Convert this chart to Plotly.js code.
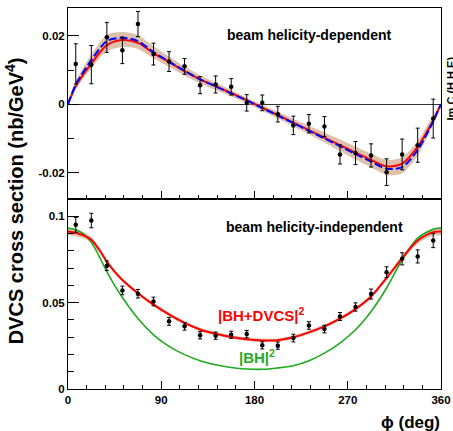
<!DOCTYPE html>
<html>
<head>
<meta charset="utf-8">
<script src="https://cdn.plot.ly/plotly-3.0.1.min.js"></script>
<style>html,body{margin:0;padding:0;background:#fff;}#chart{width:453px;height:431px;}</style>
</head>
<body>
<div id="chart"></div>
<script>
// ---- data ----
var phiData = [7.5,22.5,37.5,52.5,67.5,82.5,97.5,112.5,127.5,142.5,157.5,172.5,187.5,202.5,217.5,232.5,247.5,262.5,277.5,292.5,307.5,322.5,337.5,352.5];
var topVal = [0.0118,0.0116,0.0196,0.0158,0.0235,0.0147,0.0125,0.0111,0.0056,0.0058,0.0051,0.0004,0.0004,-0.0029,-0.0062,-0.0057,-0.0065,-0.0147,-0.0143,-0.0150,-0.0199,-0.0147,-0.0120,-0.0042];
var topErr = [0.0059,0.0056,0.0044,0.0039,0.0037,0.0032,0.0029,0.0023,0.0025,0.0025,0.0024,0.0024,0.0023,0.0023,0.0027,0.0027,0.0029,0.0028,0.0034,0.0034,0.0039,0.0045,0.0050,0.0057];
var botVal = [0.0951,0.0976,0.0714,0.0571,0.0552,0.0507,0.0392,0.0363,0.0311,0.0309,0.0314,0.0318,0.0253,0.0251,0.0295,0.0368,0.0347,0.0420,0.0475,0.0550,0.0677,0.0754,0.0768,0.0860];
var botErr = [0.0043,0.0042,0.0028,0.0025,0.0025,0.0025,0.0023,0.0022,0.0021,0.0021,0.0021,0.0021,0.0021,0.0021,0.0022,0.0022,0.0022,0.0023,0.0024,0.0029,0.0031,0.0035,0.0038,0.0041];

var phiCurveTop = [0,7.5,22.5,37.5,52.5,67.5,82.5,97.5,112.5,127.5,142.5,157.5,172.5,187.5,202.5,217.5,232.5,247.5,262.5,277.5,292.5,307.5,322.5,337.5,352.5,360];
var topRed  = [0,0.0053,0.0119,0.0173,0.0188,0.0180,0.0150,0.0124,0.0097,0.0073,0.0053,0.0033,0.0012,-0.0010,-0.0032,-0.0054,-0.0076,-0.0098,-0.0120,-0.0142,-0.0163,-0.0182,-0.0174,-0.0125,-0.0047,0];
var topBlue = [0,0.0058,0.0129,0.0185,0.0195,0.0185,0.0153,0.0125,0.0098,0.0073,0.0052,0.0032,0.0011,-0.0011,-0.0033,-0.0055,-0.0078,-0.0100,-0.0123,-0.0146,-0.0168,-0.0189,-0.0184,-0.0134,-0.0050,0];
var topBandHi = [0.0002,0.0068,0.0145,0.0203,0.0212,0.0203,0.0170,0.0140,0.0111,0.0085,0.0063,0.0042,0.0020,-0.0002,-0.0022,-0.0043,-0.0063,-0.0083,-0.0103,-0.0124,-0.0145,-0.0163,-0.0155,-0.0108,-0.0032,0.0002];
var topBandLo = [-0.0002,0.0045,0.0105,0.0155,0.0168,0.0162,0.0135,0.0110,0.0084,0.0061,0.0042,0.0023,0.0003,-0.0019,-0.0042,-0.0065,-0.0088,-0.0112,-0.0137,-0.0162,-0.0185,-0.0207,-0.0202,-0.0150,-0.0058,-0.0002];

var phiCurveBot = [0,7.5,15,22.5,30,37.5,45,52.5,67.5,82.5,97.5,112.5,127.5,142.5,157.5,172.5,187.5,202.5,217.5,232.5,247.5,262.5,277.5,292.5,307.5,322.5,337.5,352.5,360];
var botRed   = [0.0912,0.0905,0.0890,0.0865,0.0808,0.0738,0.0680,0.0632,0.0555,0.0489,0.0432,0.0383,0.0345,0.0320,0.0301,0.0288,0.0281,0.0283,0.0300,0.0328,0.0363,0.0407,0.0463,0.0536,0.0643,0.0758,0.0860,0.0909,0.0913];
var botGreen = [0.0933,0.0922,0.0898,0.0850,0.0770,0.0680,0.0600,0.0530,0.0408,0.0314,0.0247,0.0199,0.0164,0.0141,0.0125,0.0116,0.0114,0.0122,0.0135,0.0164,0.0208,0.0266,0.0343,0.0449,0.0585,0.0749,0.0874,0.0926,0.0932];
var botBandHi = [0.0934,0.0925,0.0908,0.0881,0.0822,0.0750,0.0691,0.0642,0.0565,0.0499,0.0442,0.0393,0.0355,0.0330,0.0311,0.0298,0.0291,0.0293,0.0310,0.0338,0.0373,0.0417,0.0473,0.0547,0.0655,0.0773,0.0878,0.0931,0.0935];
var botBandLo = [0.0890,0.0885,0.0872,0.0849,0.0794,0.0726,0.0669,0.0622,0.0545,0.0479,0.0422,0.0373,0.0335,0.0310,0.0291,0.0278,0.0271,0.0273,0.0290,0.0318,0.0353,0.0397,0.0453,0.0525,0.0631,0.0743,0.0842,0.0887,0.0891];

var xTicks = [0,90,180,270,360];
var xText = ['0','90','180','270','360'];
var topYTicks = [-0.02,0,0.02];
var topYText = ['-0.02','0','0.02'];
var botYTicks = [0,0.05,0.1];
var botYText = ['0','0.05','0.1'];

// ---- styling ----
var FONT = 'Liberation Sans, Arial, Helvetica, sans-serif';
var bandColor = 'rgba(200,150,115,0.6)';
var SM = 0.8;
var traces = [
  {x: phiCurveTop, y: topBandLo, xaxis:'x2', yaxis:'y2', mode:'lines', line:{width:0, shape:'spline', smoothing:SM}, hoverinfo:'skip', showlegend:false},
  {x: phiCurveTop, y: topBandHi, xaxis:'x2', yaxis:'y2', mode:'lines', line:{width:0, shape:'spline', smoothing:SM}, fill:'tonexty', fillcolor:bandColor, hoverinfo:'skip', showlegend:false},
  {x: phiCurveTop, y: topRed, xaxis:'x2', yaxis:'y2', mode:'lines', line:{color:'#ff0000', width:2, shape:'spline', smoothing:SM}, showlegend:false},
  {x: phiCurveTop, y: topBlue, xaxis:'x2', yaxis:'y2', mode:'lines', line:{color:'#0000ff', width:2, shape:'spline', smoothing:SM, dash:'8px,3px'}, showlegend:false},
  {x: phiData, y: topVal, xaxis:'x2', yaxis:'y2', mode:'markers', marker:{color:'#000', size:4.5},
   error_y:{type:'data', array: topErr, visible:true, color:'#000', thickness:1, width:2}, showlegend:false},

  {x: phiCurveBot, y: botBandLo, xaxis:'x', yaxis:'y', mode:'lines', line:{width:0, shape:'spline', smoothing:SM}, hoverinfo:'skip', showlegend:false},
  {x: phiCurveBot, y: botBandHi, xaxis:'x', yaxis:'y', mode:'lines', line:{width:0, shape:'spline', smoothing:SM}, fill:'tonexty', fillcolor:bandColor, hoverinfo:'skip', showlegend:false},
  {x: phiCurveBot, y: botGreen, xaxis:'x', yaxis:'y', mode:'lines', line:{color:'#1faa1f', width:1.6, shape:'spline', smoothing:SM}, showlegend:false},
  {x: phiCurveBot, y: botRed, xaxis:'x', yaxis:'y', mode:'lines', line:{color:'#ff0000', width:2, shape:'spline', smoothing:SM}, showlegend:false},
  {x: phiData, y: botVal, xaxis:'x', yaxis:'y', mode:'markers', marker:{color:'#000', size:4.5},
   error_y:{type:'data', array: botErr, visible:true, color:'#000', thickness:1, width:2}, showlegend:false}
];

var tickFont = {family: FONT, size: 11.5, color:'#000', weight: 700};
var xBase = {range:[0,360], tickmode:'array', tickvals:xTicks, ticktext:xText, ticks:'inside', ticklen:8, tickcolor:'#000',
  showline:true, mirror:true, linecolor:'#000', linewidth:1, showgrid:false, zeroline:false,
  minor:{ticks:'inside', ticklen:4, dtick:18, tick0:0, tickcolor:'#000', showgrid:false}};

var layout = {
  width:453, height:431,
  margin:{l:68, r:12, t:8, b:42},
  paper_bgcolor:'#fff', plot_bgcolor:'#fff',
  showlegend:false,
  font:{family:FONT, color:'#000'},
  xaxis: Object.assign({}, xBase, {anchor:'y', domain:[0,1], tickfont:tickFont}),
  xaxis2: Object.assign({}, xBase, {anchor:'y2', domain:[0,1], matches:'x', showticklabels:false}),
  yaxis: {domain:[0,0.4975], anchor:'x', range:[0,0.1098], tickmode:'array', tickvals:botYTicks, ticktext:botYText,
    ticks:'inside', ticklen:11, tickcolor:'#000', tickfont:tickFont, showline:true, mirror:true, linecolor:'#000', linewidth:1,
    showgrid:false, zeroline:false,
    minor:{ticks:'inside', ticklen:5.5, dtick:0.01, tick0:0, tickcolor:'#000', showgrid:false}},
  yaxis2: {domain:[0.4975,1], anchor:'x2', range:[-0.0279,0.0282], tickmode:'array', tickvals:topYTicks, ticktext:topYText,
    ticks:'inside', ticklen:11, tickcolor:'#000', tickfont:tickFont, showline:true, mirror:true, linecolor:'#000', linewidth:1,
    showgrid:false, zeroline:true, zerolinecolor:'#333', zerolinewidth:1,
    minor:{ticks:'inside', ticklen:5.5, dtick:0.01, tick0:0, tickcolor:'#000', showgrid:false}},
  annotations: [
    {text:'beam helicity-dependent', xref:'paper', yref:'paper', x:0.421, y:0.929, xanchor:'left', yanchor:'middle', showarrow:false,
     font:{family:FONT, size:14, color:'#000', weight:700}},
    {text:'beam helicity-independent', xref:'paper', yref:'paper', x:0.418, y:0.425, xanchor:'left', yanchor:'middle', showarrow:false,
     font:{family:FONT, size:14, color:'#000', weight:700}},
    {text:'|BH+DVCS|<sup>2</sup>', xref:'paper', yref:'paper', x:0.397, y:0.195, xanchor:'left', yanchor:'middle', showarrow:false,
     font:{family:FONT, size:15, color:'#ff0000', weight:700}},
    {text:'|BH|<sup>2</sup>', xref:'paper', yref:'paper', x:0.452, y:0.086, xanchor:'left', yanchor:'middle', showarrow:false,
     font:{family:FONT, size:15, color:'#1faa1f', weight:700}},
    {text:'DVCS cross section (nb/GeV<sup>4</sup>)', xref:'paper', yref:'paper', x:-0.145, y:0.495, xanchor:'center', yanchor:'middle',
     textangle:-90, showarrow:false, font:{family:FONT, size:20, color:'#000', weight:700}},
    {text:'\u03d5 (deg)', xref:'paper', yref:'paper', x:1.003, y:-0.087, xanchor:'right', yanchor:'middle', showarrow:false,
     font:{family:FONT, size:17, color:'#000', weight:700}},
    {text:'Im C (H,H,E)', xref:'paper', yref:'paper', x:1.028, y:0.79, xanchor:'center', yanchor:'middle', textangle:-90, showarrow:false,
     font:{family:FONT, size:11, color:'#000', weight:700}}
  ]
};

Plotly.newPlot('chart', traces, layout, {staticPlot:true, displayModeBar:false});
</script>
</body>
</html>
